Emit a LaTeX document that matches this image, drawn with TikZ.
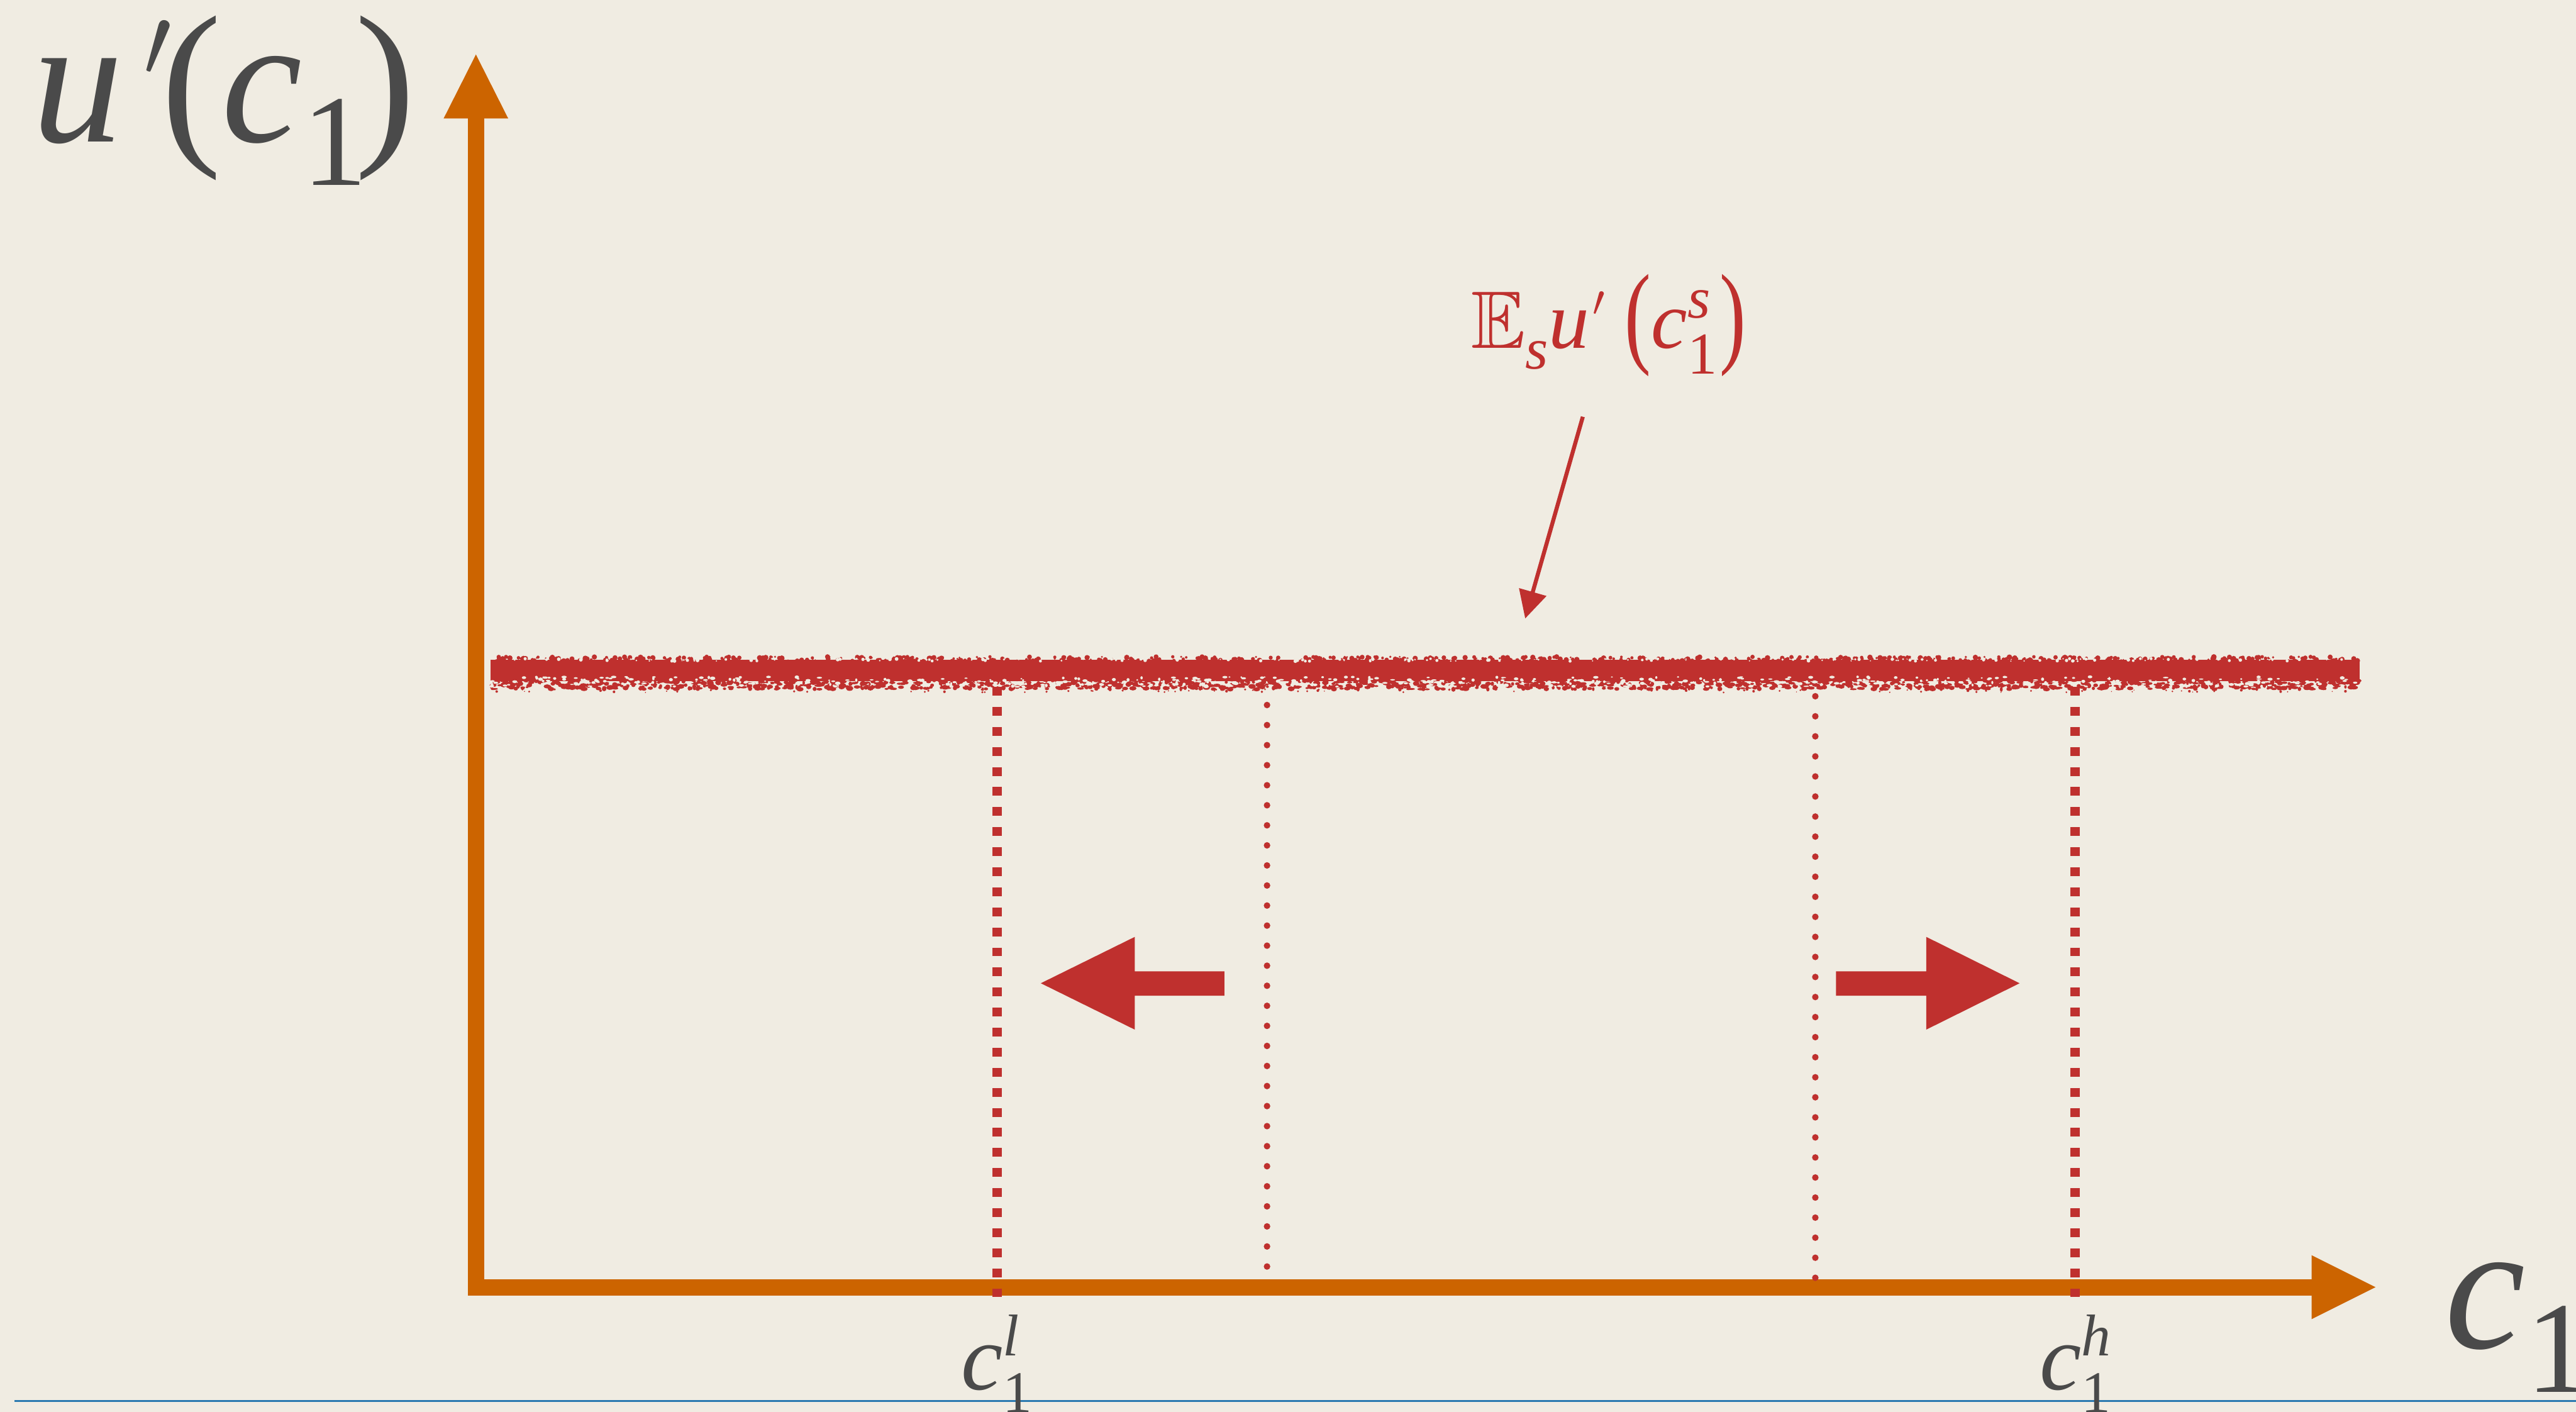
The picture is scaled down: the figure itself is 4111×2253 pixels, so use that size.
\documentclass[tikz,border=0pt]{standalone}
\usepackage{fontspec}
\setmainfont{Liberation Serif}
\usepackage{amssymb}
\usepackage{graphicx}
\usetikzlibrary{arrows.meta}
\definecolor{bgc}{RGB}{240,236,226}
\definecolor{orangec}{RGB}{204,100,0}
\definecolor{redc}{RGB}{191,48,46}
\definecolor{textgray}{RGB}{74,74,74}
\definecolor{bluec}{RGB}{43,122,176}
\newcommand{\myprime}[2]{\raisebox{#2}{\scalebox{#1}{\fontsize{10pt}{12pt}\selectfont$\prime$}}}
\tikzset{
  lbl/.style={inner sep=0pt, outer sep=0pt, text=textgray},
  axisline/.style={line width=6.5pt, orangec},
  guidedash/.style={redc, line width=3.75pt, dash pattern=on 3.5pt off 4.5pt},
  guidedot/.style={redc, line width=2.6pt, line cap=round, dash pattern=on 0pt off 8pt},
  blockarrow/.style={fill=redc},
}
\begin{document}
\begin{tikzpicture}[x=0.25pt,y=-0.25pt]
\useasboundingbox (0,0) rectangle (4111,2253);
\fill[bgc] (0,0) rectangle (4111,2253);

% noisy horizontal band
\pgfmathsetseed{4711}
\fill[redc] (783,1053) rectangle (3766,1087);
\foreach \i in {1,...,650}{
  \pgfmathsetmacro\xx{783+2983*rnd}
  \pgfmathsetmacro\yy{1048+7*rnd}
  \pgfmathsetmacro\rr{1.5+3*rnd}
  \fill[redc] (\xx,\yy) circle[radius=\rr];
}
\foreach \i in {1,...,160}{
  \pgfmathsetmacro\xx{783+2983*rnd}
  \pgfmathsetmacro\yy{1051+4*rnd}
  \pgfmathsetmacro\rr{1+2*rnd}
  \fill[bgc] (\xx,\yy) circle[radius=\rr];
}
\foreach \i in {1,...,1500}{
  \pgfmathsetmacro\xx{783+2983*rnd}
  \pgfmathsetmacro\yy{1085+15*rnd}
  \pgfmathsetmacro\ra{2+4*rnd}
  \pgfmathsetmacro\rb{1.5+2.5*rnd}
  \fill[redc] (\xx,\yy) ellipse[x radius=\ra, y radius=\rb];
}
\foreach \i in {1,...,450}{
  \pgfmathsetmacro\xx{783+2983*rnd}
  \pgfmathsetmacro\yy{1080+16*rnd}
  \pgfmathsetmacro\ra{1.5+3*rnd}
  \pgfmathsetmacro\rb{1+1.8*rnd}
  \fill[bgc] (\xx,\yy) ellipse[x radius=\ra, y radius=\rb];
}
\foreach \i in {1,...,90}{
  \pgfmathsetmacro\xx{783+2983*rnd}
  \pgfmathsetmacro\yy{1100+5*rnd}
  \pgfmathsetmacro\rr{0.8+1.4*rnd}
  \fill[redc] (\xx,\yy) circle[radius=\rr];
}

% axes
\coordinate (origin) at (759.5,2054);
\coordinate (ybase) at (759.5,189);
\coordinate (ytip) at (759.5,87);
\coordinate (xbase) at (3689,2054);
\coordinate (xtip) at (3791,2054);
\draw[axisline] (759.5,2067) -- (ybase);
\fill[orangec] (708,189) -- (811,189) -- (ytip) -- cycle;
\draw[axisline] (754,2054) -- (xbase);
\fill[orangec] (3689,2003) -- (3689,2105) -- (xtip) -- cycle;

% guide lines
\coordinate (cltop) at (1591,1096);
\coordinate (clbot) at (1591,2070);
\coordinate (chtop) at (3312,1096);
\coordinate (chbot) at (3312,2070);
\draw[guidedash] (cltop) -- (clbot);
\draw[guidedash] (chtop) -- (chbot);
\coordinate (dltop) at (2022,1125);
\coordinate (dlbot) at (2022,2023);
\coordinate (drtop) at (2897,1111);
\coordinate (drbot) at (2897,2040);
\draw[guidedot] (dltop) -- (dlbot);
\draw[guidedot] (drtop) -- (drbot);

% block arrows
\fill[blockarrow] (1661,1569) -- (1811,1495) -- (1811,1550) -- (1954,1550)
  -- (1954,1589) -- (1811,1589) -- (1811,1643) -- cycle;
\fill[blockarrow] (3223,1569) -- (3074,1495) -- (3074,1550) -- (2930,1550)
  -- (2930,1589) -- (3074,1589) -- (3074,1643) -- cycle;

% label arrow
\coordinate (astart) at (2526,665);
\coordinate (aend) at (2434,987);
\draw[redc, line width=1.6pt, -{Triangle[length=11pt,width=11pt]}] (astart) -- (aend);

% blue rule
\coordinate (bl) at (23,2236);
\coordinate (br) at (4111,2236);
\draw[bluec, line width=0.8pt] (bl) -- (br);

% labels
\node[lbl, anchor=base west] (ylabel) at (52,226)
  {\fontsize{72.5pt}{80pt}\selectfont\itshape u\upshape\hspace{8pt}\myprime{4}{26pt}\hspace{-4pt}(\itshape c\upshape\raisebox{-17.5pt}{\fontsize{52pt}{52pt}\selectfont 1}\hspace{-5pt})};
\node[lbl, anchor=base west] (xlabel) at (3902,2151)
  {\fontsize{72.5pt}{80pt}\selectfont\itshape c\upshape\raisebox{-17.75pt}{\fontsize{52pt}{52pt}\selectfont 1}};
\node[lbl, text=redc, anchor=base west] (elabel) at (2348,556)
  {\fontsize{32.5pt}{36pt}\selectfont $\mathbb{E}$\raisebox{-8.25pt}{\fontsize{23.4pt}{24pt}\selectfont\itshape s}\textit{u}\hspace{1.5pt}\myprime{1.75}{13pt}\hspace{8pt}\raisebox{-1.75pt}{\scalebox{0.7}[1]{\fontsize{45pt}{45pt}\selectfont(}}\textit{c}\rlap{\raisebox{12.25pt}{\fontsize{23.4pt}{24pt}\selectfont\itshape s}}\raisebox{-10.25pt}{\fontsize{23.7pt}{24pt}\selectfont 1}\hspace{1pt}\raisebox{-1.75pt}{\scalebox{0.7}[1]{\fontsize{45pt}{45pt}\selectfont)}}};
\node[lbl, anchor=base] (cl) at (1591,2218)
  {\fontsize{37.5pt}{40pt}\selectfont\itshape c\rlap{\raisebox{13.75pt}{\fontsize{23.5pt}{24pt}\selectfont l}}\raisebox{-9pt}{\fontsize{23.5pt}{24pt}\selectfont\upshape 1}};
\node[lbl, anchor=base] (ch) at (3312,2218)
  {\fontsize{37.5pt}{40pt}\selectfont\itshape c\rlap{\raisebox{13.75pt}{\fontsize{23.5pt}{24pt}\selectfont h}}\raisebox{-9pt}{\fontsize{23.5pt}{24pt}\selectfont\upshape 1}};
\end{tikzpicture}
\end{document}
